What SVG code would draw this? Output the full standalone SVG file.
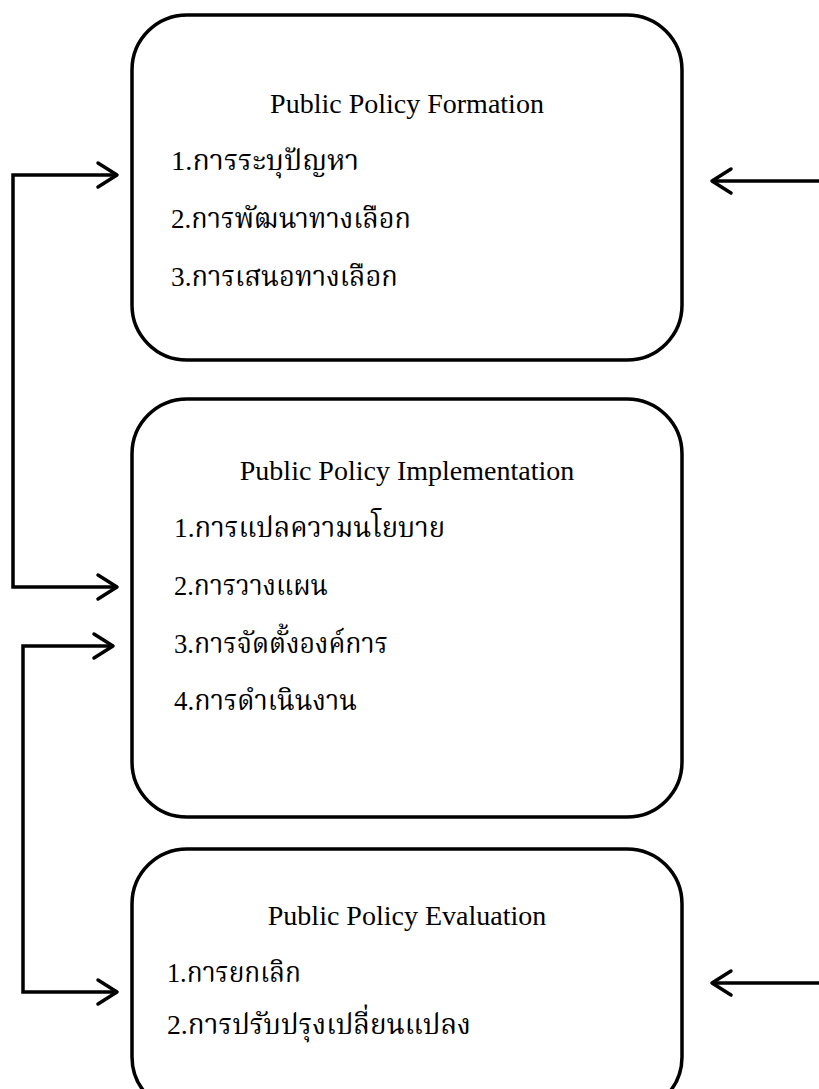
<svg xmlns="http://www.w3.org/2000/svg" width="819" height="1089" viewBox="0 0 819 1089">
<style>
.box{fill:#fff;stroke:#000;stroke-width:3.5}
.con{fill:none;stroke:#000;stroke-width:3.5}
.title{font-family:"Liberation Serif","Times New Roman",serif;font-size:28px;fill:#000;text-anchor:middle}
.item{font-family:"Liberation Serif","Noto Serif Thai","Noto Sans Thai","Noto Sans",serif;font-size:28px;fill:#000}
</style>
<defs>
<marker id="ah" markerUnits="userSpaceOnUse" markerWidth="26" markerHeight="30" refX="22" refY="15" orient="auto" overflow="visible">
<path d="M3,3 L22,15 L3,27" fill="none" stroke="#000" stroke-width="3.5" stroke-linejoin="round" stroke-linecap="round"/>
</marker>
<marker id="ahs" markerUnits="userSpaceOnUse" markerWidth="26" markerHeight="30" refX="22" refY="15" orient="auto-start-reverse" overflow="visible">
<path d="M3,3 L22,15 L3,27" fill="none" stroke="#000" stroke-width="3.5" stroke-linejoin="round" stroke-linecap="round"/>
</marker>
</defs>
<rect width="819" height="1089" fill="#fff"/>
<g id="formation">
<rect class="box" x="132" y="15" width="550" height="345" rx="55" ry="55"/>
<text class="title" x="407" y="113">Public Policy Formation</text>
<text class="item" x="171" y="170" textLength="188" lengthAdjust="spacingAndGlyphs">1.การระบุปัญหา</text>
<text class="item" x="171" y="228" textLength="240" lengthAdjust="spacingAndGlyphs">2.การพัฒนาทางเลือก</text>
<text class="item" x="171" y="286" textLength="227" lengthAdjust="spacingAndGlyphs">3.การเสนอทางเลือก</text>
</g>
<g id="implementation">
<rect class="box" x="132" y="399" width="550" height="418" rx="55" ry="55"/>
<text class="title" x="407" y="480">Public Policy Implementation</text>
<text class="item" x="174" y="537" textLength="271" lengthAdjust="spacingAndGlyphs">1.การแปลความนโยบาย</text>
<text class="item" x="174" y="595" textLength="154" lengthAdjust="spacingAndGlyphs">2.การวางแผน</text>
<text class="item" x="174" y="653" textLength="214" lengthAdjust="spacingAndGlyphs">3.การจัดตั้งองค์การ</text>
<text class="item" x="174" y="710" textLength="183" lengthAdjust="spacingAndGlyphs">4.การดำเนินงาน</text>
</g>
<g id="evaluation">
<rect class="box" x="132" y="849" width="550" height="263" rx="55" ry="55"/>
<text class="title" x="407" y="925">Public Policy Evaluation</text>
<text class="item" x="167" y="982" textLength="134" lengthAdjust="spacingAndGlyphs">1.การยกเลิก</text>
<text class="item" x="167" y="1034" textLength="304" lengthAdjust="spacingAndGlyphs">2.การปรับปรุงเปลี่ยนแปลง</text>
</g>
<g id="connectors">
<path class="con" d="M117,175 H13 V587 H117" marker-start="url(#ahs)" marker-end="url(#ah)"/>
<path class="con" d="M113,646 H23 V992 H117" marker-start="url(#ahs)" marker-end="url(#ah)"/>
<path class="con" d="M819,181 H712" marker-end="url(#ah)"/>
<path class="con" d="M819,983 H712" marker-end="url(#ah)"/>
</g>
</svg>
